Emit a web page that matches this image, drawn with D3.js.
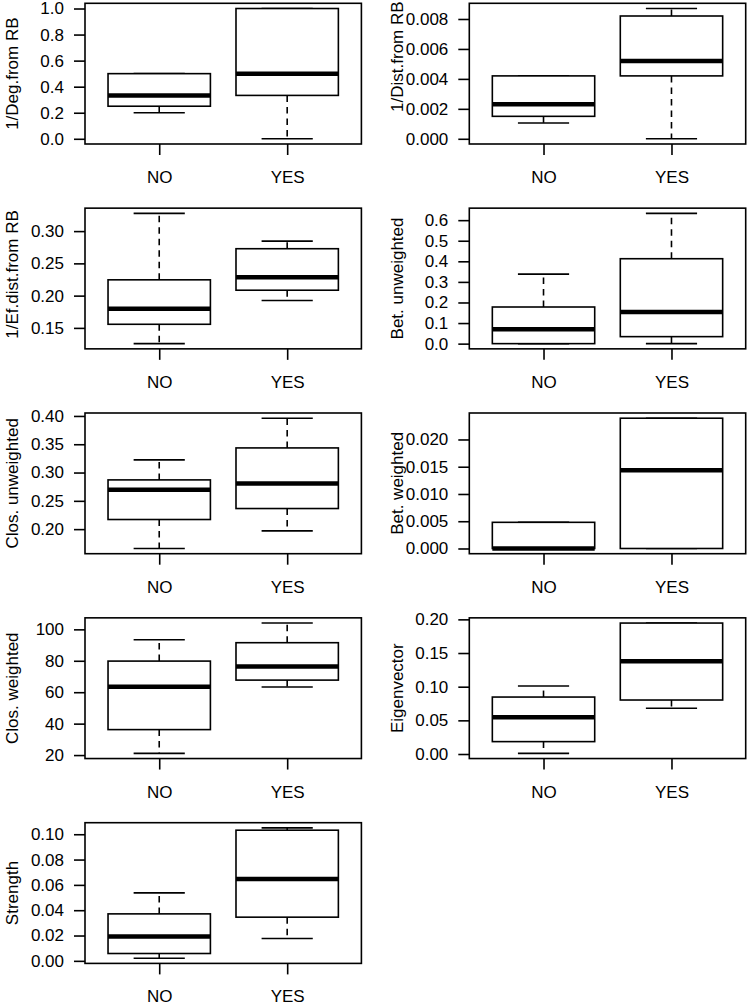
<!DOCTYPE html>
<html><head><meta charset="utf-8">
<script src="https://cdn.jsdelivr.net/npm/d3@7"></script>
<style>
body{margin:0;background:#fff}
svg{display:block}
text{font-family:"Liberation Sans",Arial,sans-serif;fill:#000}
</style>
</head><body>
<svg id="c" width="750" height="1006"></svg>
<script>
const groups = ["NO", "YES"];
// five-number summaries: [lower whisker, Q1, median, Q3, upper whisker]
const degNO = [0.2, 0.25, 0.333, 0.5, 0.5];
const degYES = [0, 0.333, 0.5, 1, 1];
const distNO = [0.00105, 0.0015, 0.0023, 0.0042, 0.0042];
const distYES = [0, 0.0042, 0.0052, 0.0082, 0.0087];
const efNO = [0.1256, 0.1556, 0.1795, 0.2245, 0.3275];
const efYES = [0.1924, 0.2084, 0.2286, 0.2727, 0.2845];
const betUnwNO = [0, 0, 0.07, 0.178, 0.338];
const betUnwYES = [0, 0.034, 0.154, 0.4126, 0.633];
const closUnwNO = [0.1658, 0.217, 0.2694, 0.287, 0.3224];
const closUnwYES = [0.197, 0.2364, 0.2805, 0.3435, 0.396];
const betWNO = [0, 0, 0, 0.0048, 0.0048];
const betWYES = [0, 0, 0.01435, 0.0239, 0.0239];
const closWNO = [21.1, 36.2, 63.5, 79.8, 93.4];
const closWYES = [63.3, 67.7, 76.4, 91.5, 104];
const eigNO = [0.001, 0.0184, 0.0545, 0.0846, 0.101];
const eigYES = [0.0679, 0.0802, 0.1376, 0.1945, 0.1945];
const strNO = [0.0021, 0.0058, 0.0193, 0.0371, 0.0537];
const strYES = [0.0177, 0.0345, 0.0647, 0.1032, 0.105];

const yLabels = ["1/Deg.from RB", "1/Dist.from RB", "1/Ef.dist.from RB", "Bet. unweighted",
  "Clos. unweighted", "Bet. weighted", "Clos. weighted", "Eigenvector", "Strength"];

const degTicks = [0, 0.2, 0.4, 0.6, 0.8, 1.0];
const distTicks = [0, 0.002, 0.004, 0.006, 0.008];
const efTicks = [0.15, 0.20, 0.25, 0.30];
const betUnwTicks = [0, 0.1, 0.2, 0.3, 0.4, 0.5, 0.6];
const closUnwTicks = [0.20, 0.25, 0.30, 0.35, 0.40];
const betWTicks = [0, 0.005, 0.010, 0.015, 0.020];
const closWTicks = [20, 40, 60, 80, 100];
const eigTicks = [0, 0.05, 0.10, 0.15, 0.20];
const strTicks = [0, 0.02, 0.04, 0.06, 0.08, 0.10];

const panels = [
  {label: yLabels[0], data: [degNO, degYES], ticks: degTicks, fmt: ".1f", labShift: 0},
  {label: yLabels[1], data: [distNO, distYES], ticks: distTicks, fmt: ".3f", labShift: -17},
  {label: yLabels[2], data: [efNO, efYES], ticks: efTicks, fmt: ".2f", labShift: -4},
  {label: yLabels[3], data: [betUnwNO, betUnwYES], ticks: betUnwTicks, fmt: ".1f", labShift: 0},
  {label: yLabels[4], data: [closUnwNO, closUnwYES], ticks: closUnwTicks, fmt: ".2f", labShift: 0},
  {label: yLabels[5], data: [betWNO, betWYES], ticks: betWTicks, fmt: ".3f", labShift: 0},
  {label: yLabels[6], data: [closWNO, closWYES], ticks: closWTicks, fmt: "d", labShift: 0},
  {label: yLabels[7], data: [eigNO, eigYES], ticks: eigTicks, fmt: ".2f", labShift: 0},
  {label: yLabels[8], data: [strNO, strYES], ticks: strTicks, fmt: ".2f", labShift: 0}
];

const colLeft = [85, 469.3];
const plotW = 276.4, plotH = 140.7;
const rowTop0 = 3.3, rowStep = 204.85;
const LW = 1.6;
const FS = 17;
const FF = '"Liberation Sans",Arial,sans-serif';

const svg = d3.select("#c");

panels.forEach((p, k) => {
  const row = Math.floor(k / 2), col = k % 2;
  const g = svg.append("g").attr("transform", `translate(${colLeft[col]},${rowTop0 + row * rowStep})`);

  const lo = d3.min(p.data, d => d[0]), hi = d3.max(p.data, d => d[4]);
  const pad = (hi - lo) * 0.04;
  const y = d3.scaleLinear().domain([lo - pad, hi + pad]).range([plotH, 0]);
  const x = d3.scaleLinear().domain([0.42, 2.58]).range([0, plotW]);

  // y axis
  const ya = g.append("g").call(d3.axisLeft(y).tickValues(p.ticks).tickFormat(d3.format(p.fmt)).tickSize(11).tickPadding(10));
  ya.select(".domain").remove();
  ya.selectAll("line").attr("stroke-width", LW);
  ya.selectAll("text").attr("font-size", FS).attr("font-family", FF);

  // x axis
  const xa = g.append("g").attr("transform", `translate(0,${plotH})`)
    .call(d3.axisBottom(x).tickValues([1, 2]).tickFormat(i => groups[i - 1]).tickSize(11).tickPadding(15.9));
  xa.select(".domain").remove();
  xa.selectAll("line").attr("stroke-width", LW);
  xa.selectAll("text").attr("font-size", FS).attr("font-family", FF);

  // y label
  g.append("text").attr("transform", `translate(-72.5,${plotH / 2 + p.labShift}) rotate(-90)`)
    .attr("text-anchor", "middle").attr("dy", "0.35em").attr("font-size", FS).text(p.label);

  // boxes
  p.data.forEach((s, i) => {
    const c = i + 1;
    const [wl, q1, med, q3, wh] = s;
    if (wh > q3) g.append("line").attr("x1", x(c)).attr("x2", x(c)).attr("y1", y(q3)).attr("y2", y(wh))
      .attr("stroke", "#000").attr("stroke-width", LW).attr("stroke-dasharray", "6.5,5");
    if (wl < q1) g.append("line").attr("x1", x(c)).attr("x2", x(c)).attr("y1", y(q1)).attr("y2", y(wl))
      .attr("stroke", "#000").attr("stroke-width", LW).attr("stroke-dasharray", "6.5,5");
    [wl, wh].forEach(v => g.append("line").attr("x1", x(c - 0.2)).attr("x2", x(c + 0.2)).attr("y1", y(v)).attr("y2", y(v))
      .attr("stroke", "#000").attr("stroke-width", LW));
    g.append("rect").attr("x", x(c - 0.4)).attr("width", x(c + 0.4) - x(c - 0.4))
      .attr("y", y(q3)).attr("height", y(q1) - y(q3))
      .attr("fill", "#fff").attr("stroke", "#000").attr("stroke-width", LW);
    g.append("line").attr("x1", x(c - 0.4)).attr("x2", x(c + 0.4)).attr("y1", y(med)).attr("y2", y(med))
      .attr("stroke", "#000").attr("stroke-width", 4.5);
  });

  g.append("rect").attr("width", plotW).attr("height", plotH).attr("fill", "none")
    .attr("stroke", "#000").attr("stroke-width", LW);
});
</script>
</body></html>
